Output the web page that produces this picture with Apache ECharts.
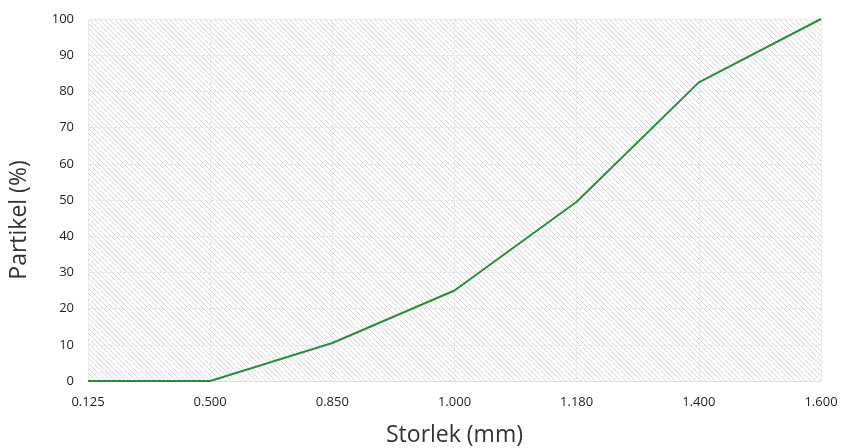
<!DOCTYPE html>
<html><head><meta charset="utf-8">
<script src="https://cdn.jsdelivr.net/npm/echarts@6/dist/echarts.min.js"></script>
<style>html,body{margin:0;padding:0;background:#fff;overflow:hidden}#c{width:843px;height:448px}</style>
</head><body><div id="c"></div>
<script>
var categories = ['0.125','0.500','0.850','1.000','1.180','1.400','1.600'];
var values = [0, 0, 10.5, 25, 49.5, 82.5, 100];

var pc = document.createElement('canvas');
pc.width = 5; pc.height = 5;
var g = pc.getContext('2d');
g.fillStyle = '#ffffff'; g.fillRect(0,0,5,5);
g.strokeStyle = '#d6d6d6'; g.lineWidth = 1;
g.beginPath();
g.moveTo(-1,-1); g.lineTo(6,6);
g.moveTo(-1,4); g.lineTo(1,6);
g.moveTo(4,-1); g.lineTo(6,1);
g.stroke();

var chart = echarts.init(document.getElementById('c'));
chart.setOption({
  animation: false,
  grid: {left: 88, right: 22, top: 19, bottom: 67, show: true, borderWidth: 0,
         containLabel: false, outerBoundsMode: 'none',
         backgroundColor: {image: pc, repeat: 'repeat'}},
  xAxis: {
    type: 'category', data: categories, boundaryGap: false,
    name: 'Storlek (mm)', nameLocation: 'middle', nameGap: 43,
    nameTextStyle: {fontSize: 23, color: '#333', fontFamily: 'Open Sans'},
    axisLine: {lineStyle: {color: '#e0e0e0'}},
    axisTick: {show: false},
    axisLabel: {fontSize: 13, color: '#1f1f1f', fontFamily: 'Open Sans', margin: 15},
    splitLine: {show: true, lineStyle: {color: '#e8e8e8'}}
  },
  yAxis: {
    type: 'value', min: 0, max: 100, interval: 10,
    name: 'Partikel (%)', nameLocation: 'middle', nameGap: 57,
    nameTextStyle: {fontSize: 23, color: '#333', fontFamily: 'Open Sans', padding: [0, 40, 0, 0]},
    axisLine: {show: false}, axisTick: {show: false},
    axisLabel: {fontSize: 13, color: '#1f1f1f', fontFamily: 'Open Sans', margin: 14},
    splitLine: {show: true, lineStyle: {color: '#e8e8e8'}}
  },
  series: [{
    type: 'line', data: values, symbol: 'none',
    lineStyle: {color: '#2e8b3e', width: 2}
  }]
});
</script></body></html>
